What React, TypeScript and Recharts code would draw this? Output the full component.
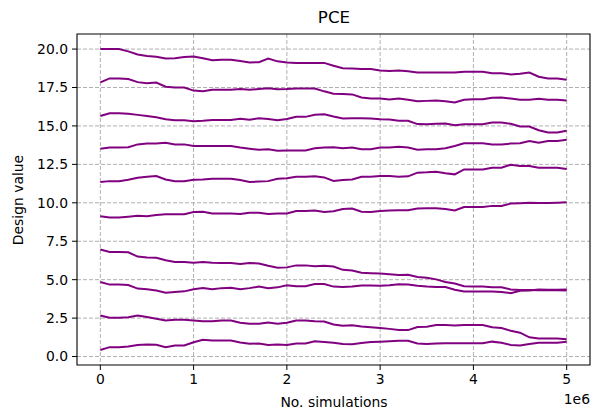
import { LineChart, Line, XAxis, YAxis, CartesianGrid, ReferenceArea } from 'recharts';

// Sample grid, in millions of simulations.
const SIMS_M = [
  0, 0.1, 0.2, 0.3, 0.4, 0.5, 0.6, 0.7, 0.8, 0.9,
  1.0, 1.1, 1.2, 1.3, 1.4, 1.5, 1.6, 1.7, 1.8, 1.9,
  2.0, 2.1, 2.2, 2.3, 2.4, 2.5, 2.6, 2.7, 2.8, 2.9,
  3.0, 3.1, 3.2, 3.3, 3.4, 3.5, 3.6, 3.7, 3.8, 3.9,
  4.0, 4.1, 4.2, 4.3, 4.4, 4.5, 4.6, 4.7, 4.8, 4.9, 5.0,
];

// Design value traces, one per design variable.
const PATH_01 = [
  20.0, 20.0, 20.0, 19.85, 19.65, 19.55, 19.5, 19.38, 19.4, 19.48,
  19.52, 19.4, 19.28, 19.3, 19.3, 19.22, 19.13, 19.15, 19.38, 19.2,
  19.12, 19.09, 19.09, 19.1, 19.1, 18.92, 18.75, 18.74, 18.7, 18.7,
  18.6, 18.58, 18.6, 18.55, 18.48, 18.48, 18.48, 18.48, 18.47, 18.52,
  18.52, 18.52, 18.43, 18.43, 18.35, 18.4, 18.47, 18.2, 18.09, 18.09, 18.0,
];
const PATH_02 = [
  17.83, 18.09, 18.09, 18.05, 17.85, 17.78, 17.82, 17.55, 17.5, 17.5,
  17.3, 17.25, 17.35, 17.35, 17.35, 17.4, 17.35, 17.4, 17.45, 17.39,
  17.4, 17.43, 17.43, 17.43, 17.25, 17.1, 17.07, 17.05, 16.85, 16.78,
  16.78, 16.72, 16.78, 16.7, 16.6, 16.63, 16.65, 16.6, 16.52, 16.7,
  16.74, 16.74, 16.83, 16.85, 16.78, 16.7, 16.7, 16.76, 16.7, 16.7, 16.65,
];
const PATH_03 = [
  15.65, 15.83, 15.83, 15.8, 15.72, 15.65, 15.56, 15.43, 15.37, 15.37,
  15.3, 15.33, 15.39, 15.39, 15.39, 15.47, 15.4, 15.5, 15.45, 15.37,
  15.45, 15.59, 15.59, 15.72, 15.76, 15.61, 15.48, 15.5, 15.5, 15.48,
  15.43, 15.42, 15.33, 15.33, 15.12, 15.11, 15.15, 15.16, 15.04, 15.11,
  15.11, 15.11, 15.22, 15.22, 15.14, 14.96, 14.96, 14.72, 14.57, 14.57, 14.68,
];
const PATH_04 = [
  13.52, 13.59, 13.59, 13.62, 13.8, 13.85, 13.85, 13.91, 13.8, 13.8,
  13.7, 13.7, 13.7, 13.7, 13.7, 13.6, 13.52, 13.45, 13.48, 13.38,
  13.4, 13.41, 13.41, 13.55, 13.6, 13.62, 13.55, 13.59, 13.48, 13.48,
  13.59, 13.59, 13.65, 13.59, 13.45, 13.48, 13.48, 13.55, 13.7, 13.87,
  13.87, 13.87, 13.8, 13.8, 13.85, 13.87, 14.02, 13.9, 14.02, 14.02, 14.1,
];
const PATH_05 = [
  11.35, 11.41, 11.41, 11.5, 11.63, 11.7, 11.74, 11.52, 11.41, 11.41,
  11.5, 11.52, 11.57, 11.57, 11.57, 11.48, 11.36, 11.38, 11.41, 11.57,
  11.6, 11.7, 11.7, 11.72, 11.65, 11.42, 11.48, 11.52, 11.7, 11.7,
  11.74, 11.74, 11.7, 11.72, 11.96, 11.98, 12.02, 11.92, 11.85, 12.17,
  12.17, 12.17, 12.28, 12.28, 12.48, 12.4, 12.39, 12.28, 12.28, 12.28, 12.2,
];
const PATH_06 = [
  9.13, 9.04, 9.04, 9.1, 9.16, 9.12, 9.2, 9.26, 9.26, 9.26,
  9.4, 9.41, 9.3, 9.3, 9.3, 9.27, 9.35, 9.35, 9.27, 9.3,
  9.3, 9.46, 9.46, 9.5, 9.4, 9.45, 9.6, 9.63, 9.42, 9.41,
  9.46, 9.5, 9.52, 9.52, 9.63, 9.65, 9.65, 9.6, 9.5, 9.72,
  9.72, 9.72, 9.8, 9.8, 9.95, 9.97, 10.0, 9.98, 9.98, 10.0, 10.03,
];
const PATH_07 = [
  6.96, 6.8, 6.8, 6.78, 6.5, 6.45, 6.42, 6.26, 6.15, 6.15,
  6.1, 6.15, 6.1, 6.09, 6.09, 6.02, 6.09, 6.05, 5.9, 5.78,
  5.8, 5.93, 5.93, 5.88, 5.9, 5.85, 5.64, 5.6, 5.45, 5.42,
  5.4, 5.36, 5.3, 5.32, 5.17, 5.12, 5.02, 4.85, 4.75, 4.58,
  4.55, 4.55, 4.5, 4.5, 4.36, 4.33, 4.33, 4.32, 4.33, 4.32, 4.3,
];
const PATH_08 = [
  4.85, 4.68, 4.68, 4.65, 4.42, 4.38, 4.3, 4.15, 4.2, 4.24,
  4.38, 4.45, 4.38, 4.45, 4.48, 4.38, 4.45, 4.55, 4.45, 4.5,
  4.63, 4.58, 4.58, 4.72, 4.72, 4.55, 4.52, 4.55, 4.62, 4.62,
  4.6, 4.63, 4.7, 4.68, 4.6, 4.55, 4.52, 4.52, 4.35, 4.23,
  4.23, 4.23, 4.23, 4.2, 4.12, 4.28, 4.3, 4.36, 4.34, 4.34, 4.36,
];
const PATH_09 = [
  2.67, 2.52, 2.52, 2.55, 2.67, 2.57, 2.46, 2.35, 2.39, 2.39,
  2.35, 2.3, 2.3, 2.35, 2.35, 2.2, 2.13, 2.13, 2.22, 2.13,
  2.2, 2.35, 2.35, 2.3, 2.28, 2.08, 2.0, 2.03, 1.95, 1.9,
  1.86, 1.8, 1.72, 1.72, 1.92, 1.94, 2.05, 2.05, 2.02, 2.05,
  2.05, 2.05, 1.9, 1.85, 1.68, 1.55, 1.25, 1.18, 1.18, 1.18, 1.12,
];
const PATH_10 = [
  0.43, 0.61, 0.61, 0.65, 0.75, 0.78, 0.76, 0.61, 0.72, 0.72,
  0.93, 1.09, 1.04, 1.04, 1.04, 0.92, 0.83, 0.85, 0.75, 0.78,
  0.75, 0.85, 0.85, 1.0, 0.95, 0.9, 0.82, 0.8, 0.88, 0.95,
  0.97, 1.0, 1.03, 1.03, 0.85, 0.82, 0.85, 0.86, 0.86, 0.86,
  0.86, 0.86, 0.97, 0.9, 0.75, 0.72, 0.82, 0.9, 0.9, 0.9, 0.97,
];

const PATHS = [PATH_01, PATH_02, PATH_03, PATH_04, PATH_05, PATH_06, PATH_07, PATH_08, PATH_09, PATH_10];

const X_TICKS = [0, 1e6, 2e6, 3e6, 4e6, 5e6];
const Y_TICKS = [0, 2.5, 5, 7.5, 10, 12.5, 15, 17.5, 20];

const X_DOMAIN: [number, number] = [-250000, 5250000];
const Y_DOMAIN: [number, number] = [-0.55, 20.98];

const rows = SIMS_M.map((m, i) => {
  const row: Record<string, number> = { sims: m * 1e6 };
  PATHS.forEach((p, k) => { row[`p${k}`] = p[i]; });
  return row;
});

const FONT = '"DejaVu Sans", sans-serif';
const TICK = { fill: '#000', fontSize: 13.9, fontFamily: FONT };
const LINE_COLOR = '#800080';

export default function App() {
  return (
    <div style={{ position: 'relative', width: 592, height: 418, background: '#fff', fontFamily: FONT, color: '#000' }}>
      <style>{'body{margin:0}'}</style>
      <LineChart width={592} height={418} data={rows} margin={{ top: 34, right: 2, bottom: 23, left: 0 }}>
        <CartesianGrid stroke="#b0b0b0" strokeDasharray="4 2" strokeWidth={1} horizontalValues={Y_TICKS} verticalValues={X_TICKS} />
        <XAxis
          dataKey="sims" type="number" domain={X_DOMAIN} ticks={X_TICKS} allowDataOverflow
          tickFormatter={(v: number) => String(v / 1e6)} tick={TICK}
          axisLine={false} tickLine={{ stroke: '#000' }} tickSize={5} tickMargin={4} height={30}
        />
        <YAxis
          type="number" domain={Y_DOMAIN} ticks={Y_TICKS} allowDataOverflow
          tickFormatter={(v: number) => v.toFixed(1)} tick={TICK}
          axisLine={false} tickLine={{ stroke: '#000' }} tickSize={5} tickMargin={4} width={77}
        />
        {PATHS.map((_, k) => (
          <Line key={k} type="linear" dataKey={`p${k}`} stroke={LINE_COLOR} strokeWidth={2} dot={false} isAnimationActive={false} />
        ))}
        {/* axes frame on all four sides */}
        <ReferenceArea x1={X_DOMAIN[0]} x2={X_DOMAIN[1]} y1={Y_DOMAIN[0]} y2={Y_DOMAIN[1]} fill="none" stroke="#000" strokeWidth={1.1} ifOverflow="extendDomain" />
      </LineChart>

      <div style={{ position: 'absolute', left: 334, top: 9, transform: 'translateX(-50%)', fontSize: 16.7, lineHeight: '17px', whiteSpace: 'nowrap' }}>PCE</div>
      <div style={{ position: 'absolute', left: 334, top: 395, transform: 'translateX(-50%)', fontSize: 13.9, lineHeight: '15px', whiteSpace: 'nowrap' }}>No. simulations</div>
      <div style={{ position: 'absolute', right: 2, top: 392, fontSize: 13.9, lineHeight: '15px', whiteSpace: 'nowrap' }}>1e6</div>
      <div style={{ position: 'absolute', left: 18, top: 200, transform: 'translate(-50%, -50%) rotate(-90deg)', fontSize: 13.9, lineHeight: '15px', whiteSpace: 'nowrap' }}>Design value</div>
    </div>
  );
}
